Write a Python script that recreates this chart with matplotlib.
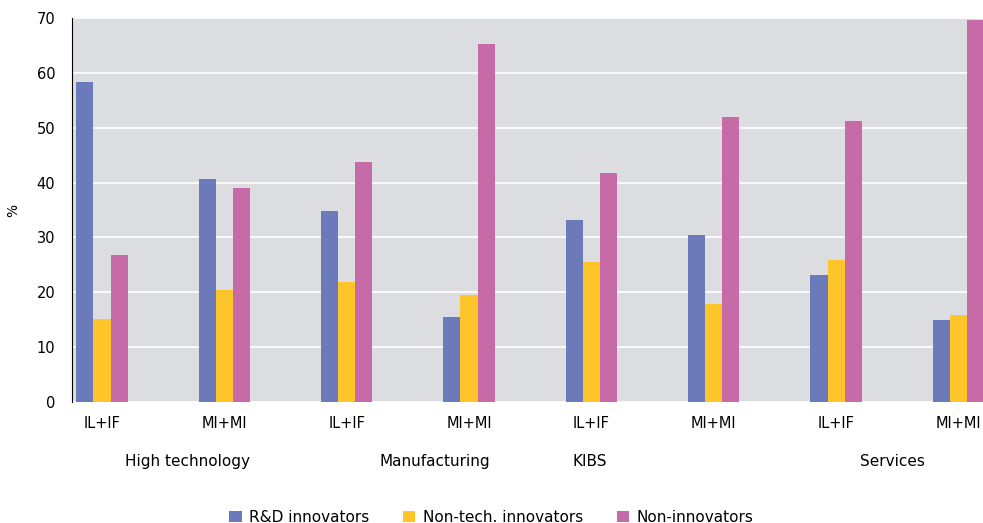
import matplotlib.pyplot as plt
import numpy as np

subgroups = ['IL+IF', 'MI+MI'] * 4
sectors = ['High technology', 'Manufacturing', 'KIBS', 'Services']
rd = [58.3, 40.6, 34.8, 15.5, 33.2, 30.4, 23.1, 14.9]
nontech = [15.1, 20.4, 21.9, 19.5, 25.5, 17.9, 25.9, 15.9]
noninno = [26.8, 39.0, 43.7, 65.2, 41.7, 51.9, 51.2, 69.6]

colors = ['#6b7aba', '#fec52a', '#c66ba8']
names = ['R&D innovators', 'Non-tech. innovators', 'Non-innovators']

fig = plt.figure(figsize=(9.83, 5.23), dpi=100)
ax = fig.add_axes([0.0732, 0.2314, 0.9268, 0.7342])
ax.set_facecolor('#dcdde0')

x = np.arange(len(subgroups))
w = 0.14
for i, (vals, c, n) in enumerate(zip([rd, nontech, noninno], colors, names)):
    ax.bar(x + (i - 1) * w, vals, w, color=c, label=n, zorder=3)

ax.set_ylim(0, 70)
ax.set_xlim(-0.245, 7.2)
ax.set_yticks(range(0, 71, 10))
ax.yaxis.grid(True, color='white', linewidth=1.2, zorder=0)
ax.set_xticks(x)
ax.set_xticklabels(subgroups, fontsize=10)
ax.tick_params(axis='both', length=0, labelsize=10.5)
ax.tick_params(axis='x', pad=10)
ax.tick_params(axis='y', pad=12)
for s in ['top', 'right', 'bottom']:
    ax.spines[s].set_visible(False)
ax.spines['left'].set_color('black')
ax.set_ylabel('%', fontsize=10)
ax.yaxis.set_label_coords(-0.057, 0.5)

label_pos = [0.70, 2.72, 3.99, 6.46]
for p, s in zip(label_pos, sectors):
    ax.text(p, -0.155, s, transform=ax.get_xaxis_transform(), ha='center',
            va='center', fontsize=11)

fig.legend(loc='lower center', bbox_to_anchor=(0.5, -0.03), ncol=3, frameon=False,
           fontsize=11, handlelength=0.8, handleheight=0.8, columnspacing=2.2,
           handletextpad=0.5)

fig.savefig('out.png', dpi=100)
